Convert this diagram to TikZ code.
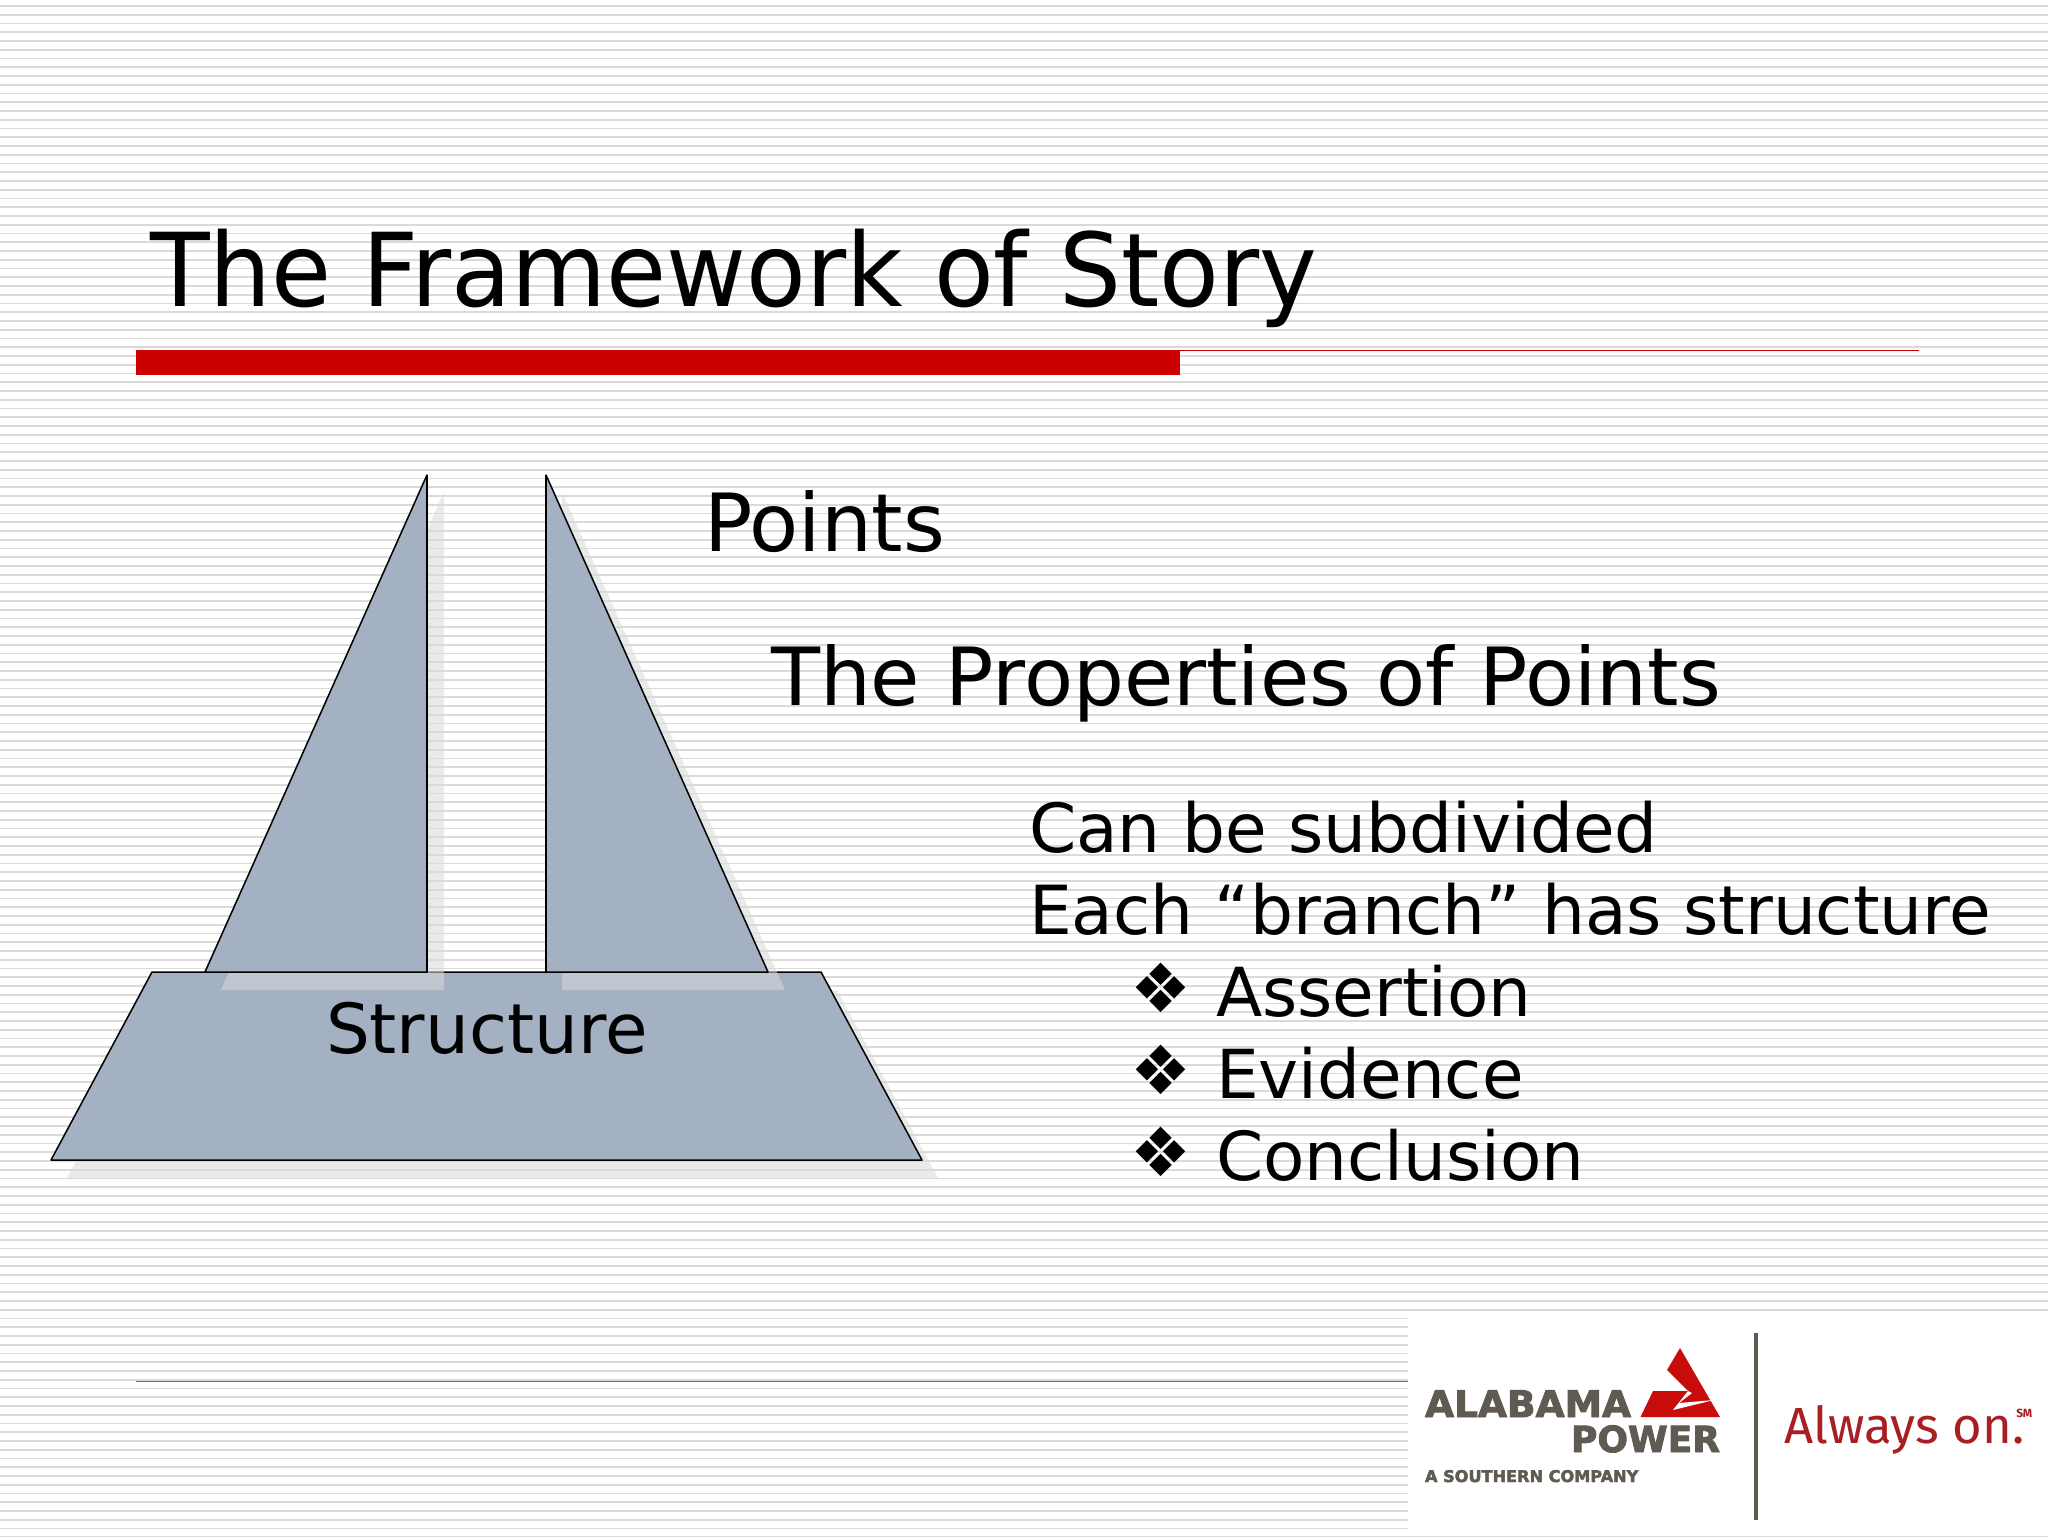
\documentclass[tikz,border=0pt]{standalone}
\usepackage{fontspec}
\setmainfont{DejaVu Sans}
\newfontfamily\tagfont{Fira Sans}
\newfontfamily\heavyfont[FakeBold=2.5]{DejaVu Sans Bold}
\definecolor{slateblue}{HTML}{A3B1C2}
\definecolor{stripegrey}{HTML}{DADADA}
\definecolor{barred}{HTML}{CC0000}
\definecolor{logogrey}{HTML}{5F5A52}
\definecolor{logored}{HTML}{C80C0C}
\definecolor{tagred}{HTML}{A81E22}
\definecolor{shadowgrey}{HTML}{DADADA}
\tikzset{
  txt/.style={anchor=base west,inner sep=0pt,outer sep=0pt,text=black},
  sized/.style={font=\fontsize{#1}{#1}\selectfont},
  solidshape/.style={fill=slateblue,draw=black,line width=1.3pt,line join=round},
  dropshadow/.style={fill=shadowgrey,opacity=.55},
  logotxt/.style={anchor=base west,inner sep=0pt,outer sep=0pt,text=logogrey},
  bulletmark/.style={anchor=center,inner sep=0pt,sized=58pt},
}
\begin{document}
\begin{tikzpicture}[x=0.03cm,y=-0.03cm]
\useasboundingbox (0,0) rectangle (2048,1536);
\fill[white] (0,0) rectangle (2048,1536);
% stripes
\foreach \i in {0,...,175}{
  \pgfmathsetmacro{\yy}{6+8.75*\i}
  \draw[stripegrey,line width=1.4pt] (0,\yy) -- (2048,\yy);
}
% rules
\fill[barred] (136,350) rectangle (1180,375);
\coordinate (ruleA) at (1180,350.5);
\coordinate (ruleB) at (1919,350.5);
\draw[barred,line width=1.3pt] (ruleA) -- (ruleB);
\coordinate (ruleC) at (136,1381.5);
\coordinate (ruleD) at (1408,1381.5);
\draw[barred!75!white,line width=.9pt] (ruleC) -- (ruleD);
% title
\node[txt,sized=87pt] (title) at (150,306) {\scalebox{.958}[1]{The Framework of Story}};
% diagram
\fill[dropshadow] (168,990) -- (837,990) -- (938,1178) -- (67,1178) -- cycle;
\draw[solidshape] (152,972) -- (821,972) -- (922,1160) -- (51,1160) -- cycle;
\fill[dropshadow] (444,492) -- (444,990) -- (221,990) -- cycle;
\fill[dropshadow] (562,492) -- (785,990) -- (562,990) -- cycle;
\draw[solidshape] (427,475) -- (427,972) -- (205,972) -- cycle;
\draw[solidshape] (546,475) -- (768,972) -- (546,972) -- cycle;
\node[txt,sized=59pt] (structure) at (326,1053) {Structure};
% texts
\node[txt,sized=68.5pt] (points) at (704,551) {Points};
\node[txt,sized=68.5pt] (props) at (771,705) {The Properties of Points};
\node[txt,sized=57.8pt] (sub) at (1029,852) {Can be subdivided};
\node[txt,sized=57.8pt] (branch) at (1029,934) {Each “branch” has structure};
\node[txt,sized=57.7pt] (assert) at (1216,1016) {Assertion};
\node[txt,sized=57.7pt] (evid) at (1216,1098) {Evidence};
\node[txt,sized=57.7pt] (concl) at (1216,1180) {Conclusion};
\node[bulletmark] (b1) at (1161,988) {❖};
\node[bulletmark] (b2) at (1161,1070) {❖};
\node[bulletmark] (b3) at (1161,1152) {❖};
% logo
\fill[white] (1408,1318) rectangle (2048,1536);
\fill[logored] (1680,1348) -- (1720,1417) -- (1640.5,1417) -- (1653,1391) -- (1688,1391) -- (1667,1370) -- cycle;
\fill[white] (1688,1391) -- (1673,1410) -- (1714,1400) -- (1679,1403) -- (1692,1393) -- cycle;
\node[logotxt] (alabama) at (1425,1417) {\resizebox{6.18cm}{0.8cm}{\heavyfont ALABAMA}};
\node[logotxt] (power) at (1571,1452) {\resizebox{4.47cm}{0.8cm}{\heavyfont POWER}};
\node[logotxt] (south) at (1425,1482) {\resizebox{6.4cm}{0.36cm}{\heavyfont A SOUTHERN COMPANY}};
\coordinate (barT) at (1756,1333);
\coordinate (barB) at (1756,1520);
\draw[logogrey,line width=3pt] (barT) -- (barB);
\node[anchor=base west,inner sep=0pt,text=tagred] (always) at (1784,1443) {\resizebox{7.2cm}{!}{\tagfont Always on.}};
\node[anchor=base west,inner sep=0pt,text=tagred] (sm) at (2016,1417) {\resizebox{0.48cm}{!}{\tagfont\bfseries SM}};
\end{tikzpicture}
\end{document}
